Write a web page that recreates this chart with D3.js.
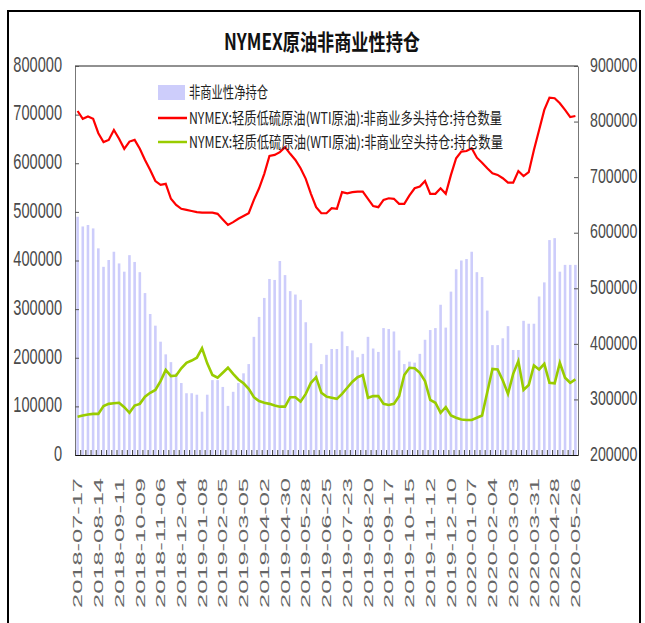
<!DOCTYPE html>
<html>
<head>
<meta charset="utf-8">
<script src="https://cdn.jsdelivr.net/npm/d3@7"></script>
<style>
  body { margin: 0; background: #fff; }
  svg { display: block; }
  text { font-family: "Liberation Sans", "Noto Sans CJK SC", sans-serif; }
</style>
</head>
<body>
<svg id="chart" width="645" height="623"></svg>
<script>
// weekly report dates (category axis)
const dates = [
  '2018-07-17','2018-07-24','2018-07-31','2018-08-07','2018-08-14','2018-08-21','2018-08-28','2018-09-04',
  '2018-09-11','2018-09-18','2018-09-25','2018-10-02','2018-10-09','2018-10-16','2018-10-23','2018-10-30',
  '2018-11-06','2018-11-13','2018-11-20','2018-11-27','2018-12-04','2018-12-11','2018-12-18','2018-12-24',
  '2019-01-08','2019-01-15','2019-01-22','2019-01-29','2019-02-05','2019-02-12','2019-02-19','2019-02-26',
  '2019-03-05','2019-03-12','2019-03-19','2019-03-26','2019-04-02','2019-04-09','2019-04-16','2019-04-23',
  '2019-04-30','2019-05-07','2019-05-14','2019-05-21','2019-05-28','2019-06-04','2019-06-11','2019-06-18',
  '2019-06-25','2019-07-02','2019-07-09','2019-07-16','2019-07-23','2019-07-30','2019-08-06','2019-08-13',
  '2019-08-20','2019-08-27','2019-09-03','2019-09-10','2019-09-17','2019-09-24','2019-10-01','2019-10-08',
  '2019-10-15','2019-10-22','2019-10-29','2019-11-05','2019-11-12','2019-11-19','2019-11-26','2019-12-03',
  '2019-12-10','2019-12-17','2019-12-24','2019-12-31','2020-01-07','2020-01-14','2020-01-21','2020-01-28',
  '2020-02-04','2020-02-11','2020-02-18','2020-02-25','2020-03-03','2020-03-10','2020-03-17','2020-03-24',
  '2020-03-31','2020-04-07','2020-04-14','2020-04-21','2020-04-28','2020-05-05','2020-05-12','2020-05-19',
  '2020-05-26'
];

// 非商业性净持仓 (left axis)
const netPos = [
  490000,470000,473000,466000,425000,387000,401000,418000,394000,377000,
  411000,397000,376000,333000,290000,266000,233000,207000,191000,168000,
  148000,127000,127000,124000,89000,124000,154000,154000,140000,101000,
  130000,148000,168000,187000,243000,284000,323000,362000,360000,399000,
  370000,337000,330000,319000,273000,230000,172000,187000,206000,218000,
  218000,254000,224000,215000,201000,208000,243000,219000,212000,261000,
  259000,254000,215000,187000,192000,190000,208000,237000,257000,261000,
  309000,262000,336000,382000,400000,403000,418000,376000,366000,297000,
  226000,226000,240000,265000,216000,216000,276000,270000,270000,326000,
  355000,442000,446000,377000,391000,391000,391000
];

// 非商业多头持仓 (right axis)
const longPos = [
  819000,805000,809000,805000,779000,763000,767000,785000,769000,751000,
  764000,767000,751000,731000,713000,693000,686000,688000,661000,650000,
  643000,641000,639000,637000,636000,636000,636000,634000,624000,614000,
  619000,625000,630000,635000,659000,680000,706000,738000,740000,745000,
  754000,742000,731000,716000,697000,670000,646000,635000,635000,644000,
  643000,673000,671000,673000,674000,674000,661000,648000,646000,659000,
  662000,661000,652000,652000,667000,680000,683000,693000,670000,670000,
  680000,670000,704000,734000,746000,747000,752000,735000,726000,716000,
  707000,704000,698000,690000,690000,711000,702000,709000,749000,785000,
  821000,843000,842000,833000,821000,808000,810000
];

// 非商业空头持仓 (right axis)
const shortPos = [
  269000,271000,273000,274000,274000,288000,292000,293000,294000,286000,
  276000,289000,292000,305000,312000,317000,333000,353000,342000,343000,
  356000,366000,370000,375000,392000,365000,344000,339000,348000,357000,
  346000,336000,329000,319000,304000,297000,294000,292000,289000,287000,
  287000,304000,304000,296000,310000,330000,340000,312000,305000,303000,
  301000,310000,321000,332000,340000,344000,303000,306000,306000,292000,
  290000,292000,306000,344000,357000,356000,348000,333000,299000,294000,
  276000,286000,271000,267000,264000,263000,263000,267000,271000,313000,
  355000,354000,334000,310000,346000,369000,317000,326000,361000,354000,
  364000,330000,329000,366000,339000,330000,336000
];

const leftTicks = [0, 100000, 200000, 300000, 400000, 500000, 600000, 700000, 800000];
const rightTicks = [200000, 300000, 400000, 500000, 600000, 700000, 800000, 900000];
const labelDates = dates.filter((d, i) => i % 4 === 0);

const title = 'NYMEX原油非商业性持仓';
const legendNames = [
  '非商业性净持仓',
  'NYMEX:轻质低硫原油(WTI原油):非商业多头持仓:持仓数量',
  'NYMEX:轻质低硫原油(WTI原油):非商业空头持仓:持仓数量'
];

const svg = d3.select('#chart');
const area = { left: 75, right: 578, top: 66, bottom: 455 };

// squeeze text to a given width (the original font is a narrow one)
function fit(sel, perChar) {
  sel.attr('textLength', function () { return this.textContent.length * perChar; })
     .attr('lengthAdjust', 'spacingAndGlyphs');
}

// outer frame
svg.append('rect')
  .attr('x', 8).attr('y', 11)
  .attr('width', 632).attr('height', 640)
  .attr('fill', 'none').attr('stroke', '#000').attr('stroke-width', 2);

svg.append('text')
  .attr('x', 322).attr('y', 50)
  .attr('text-anchor', 'middle')
  .attr('font-size', 22).attr('font-weight', 'bold')
  .attr('fill', '#111')
  .attr('textLength', 196).attr('lengthAdjust', 'spacingAndGlyphs')
  .style('font-family', '"Noto Sans CJK SC", sans-serif')
  .text(title);

const x = d3.scaleBand()
  .domain(dates)
  .range([area.left, area.right])
  .paddingInner(0.5)
  .paddingOuter(0.25);

const xEdge = d3.scaleLinear()
  .domain([0, dates.length])
  .range([area.left, area.right]);

const yLeft = d3.scaleLinear().domain([0, 800000]).range([area.bottom, area.top]);
const yRight = d3.scaleLinear().domain([200000, 900000]).range([area.bottom, area.top]);

// bars
svg.append('g')
  .selectAll('rect')
  .data(netPos)
  .join('rect')
  .attr('x', (d, i) => x(dates[i]))
  .attr('width', x.bandwidth())
  .attr('y', (d) => yLeft(d))
  .attr('height', (d) => yLeft(0) - yLeft(d))
  .attr('fill', '#cdcdfb');

// top border of plot
svg.append('line')
  .attr('x1', area.left).attr('x2', area.right)
  .attr('y1', area.top).attr('y2', area.top)
  .attr('stroke', '#222');

// left axis (tall narrow digits: small font stretched vertically)
const gl = svg.append('g')
  .attr('transform', `translate(${area.left},0)`)
  .call(d3.axisLeft(yLeft).tickValues(leftTicks).tickSize(-4).tickSizeOuter(0).tickPadding(13).tickFormat(d3.format('d')));
gl.select('.domain').attr('stroke', '#777');
gl.selectAll('.tick line').attr('stroke', '#555');
gl.selectAll('text')
  .attr('font-size', 14.6).attr('fill', '#4a4a4a')
  .attr('dy', '0.25em')
  .attr('transform', 'scale(1,1.45)');

// right axis
const gr = svg.append('g')
  .attr('transform', `translate(${area.right},0)`)
  .call(d3.axisRight(yRight).tickValues(rightTicks).tickSize(-4).tickSizeOuter(0).tickPadding(12).tickFormat(d3.format('d')));
gr.select('.domain').attr('stroke', '#777');
gr.selectAll('.tick line').attr('stroke', '#555');
gr.selectAll('text')
  .attr('font-size', 14.2).attr('fill', '#4a4a4a')
  .attr('dy', '0.25em')
  .attr('transform', 'scale(1,1.45)');

// bottom axis: small ticks between categories
const gb = svg.append('g')
  .attr('transform', `translate(0,${area.bottom})`)
  .call(d3.axisBottom(xEdge).tickValues(d3.range(0, dates.length + 1)).tickSize(-5).tickSizeOuter(0).tickFormat(''));
gb.select('.domain').attr('stroke', '#111');
gb.selectAll('.tick line').attr('stroke', '#444');

// date labels, every 4th week, rotated
const gx = svg.append('g')
  .attr('transform', `translate(0,${area.bottom})`)
  .call(d3.axisBottom(x).tickValues(labelDates).tickSize(0));
gx.select('.domain').remove();
gx.selectAll('text')
  .attr('transform', 'rotate(-90)')
  .attr('text-anchor', 'end')
  .attr('x', -23)
  .attr('y', 0)
  .attr('dy', '0.36em')
  .attr('font-size', 13)
  .attr('fill', '#666')
  .call(fit, 13);

// lines
const lineR = d3.line()
  .x((d, i) => x(dates[i]) + x.bandwidth() / 2)
  .y((d) => yRight(d));

svg.append('path')
  .datum(longPos)
  .attr('d', lineR)
  .attr('fill', 'none')
  .attr('stroke', '#ff0000')
  .attr('stroke-width', 2.2);

svg.append('path')
  .datum(shortPos)
  .attr('d', lineR)
  .attr('fill', 'none')
  .attr('stroke', '#99cc00')
  .attr('stroke-width', 2.6);

// legend
const lg = svg.append('g').attr('font-size', 16).attr('fill', '#222');
lg.append('rect').attr('x', 158).attr('y', 85).attr('width', 27).attr('height', 15).attr('fill', '#cdcdfb');
lg.append('line').attr('x1', 158).attr('x2', 187).attr('y1', 118).attr('y2', 118)
  .attr('stroke', '#ff0000').attr('stroke-width', 2.5);
lg.append('line').attr('x1', 158).attr('x2', 187).attr('y1', 142).attr('y2', 142)
  .attr('stroke', '#99cc00').attr('stroke-width', 2.5);

const legendY = [92.5, 118, 142];
const legendW = [79, 313, 314];
legendNames.forEach((name, i) => {
  lg.append('text')
    .attr('x', 189).attr('y', legendY[i])
    .attr('dy', '0.36em')
    .attr('textLength', legendW[i]).attr('lengthAdjust', 'spacingAndGlyphs')
    .style('font-family', '"Noto Sans CJK SC", sans-serif')
    .text(name);
});
</script>
</body>
</html>
